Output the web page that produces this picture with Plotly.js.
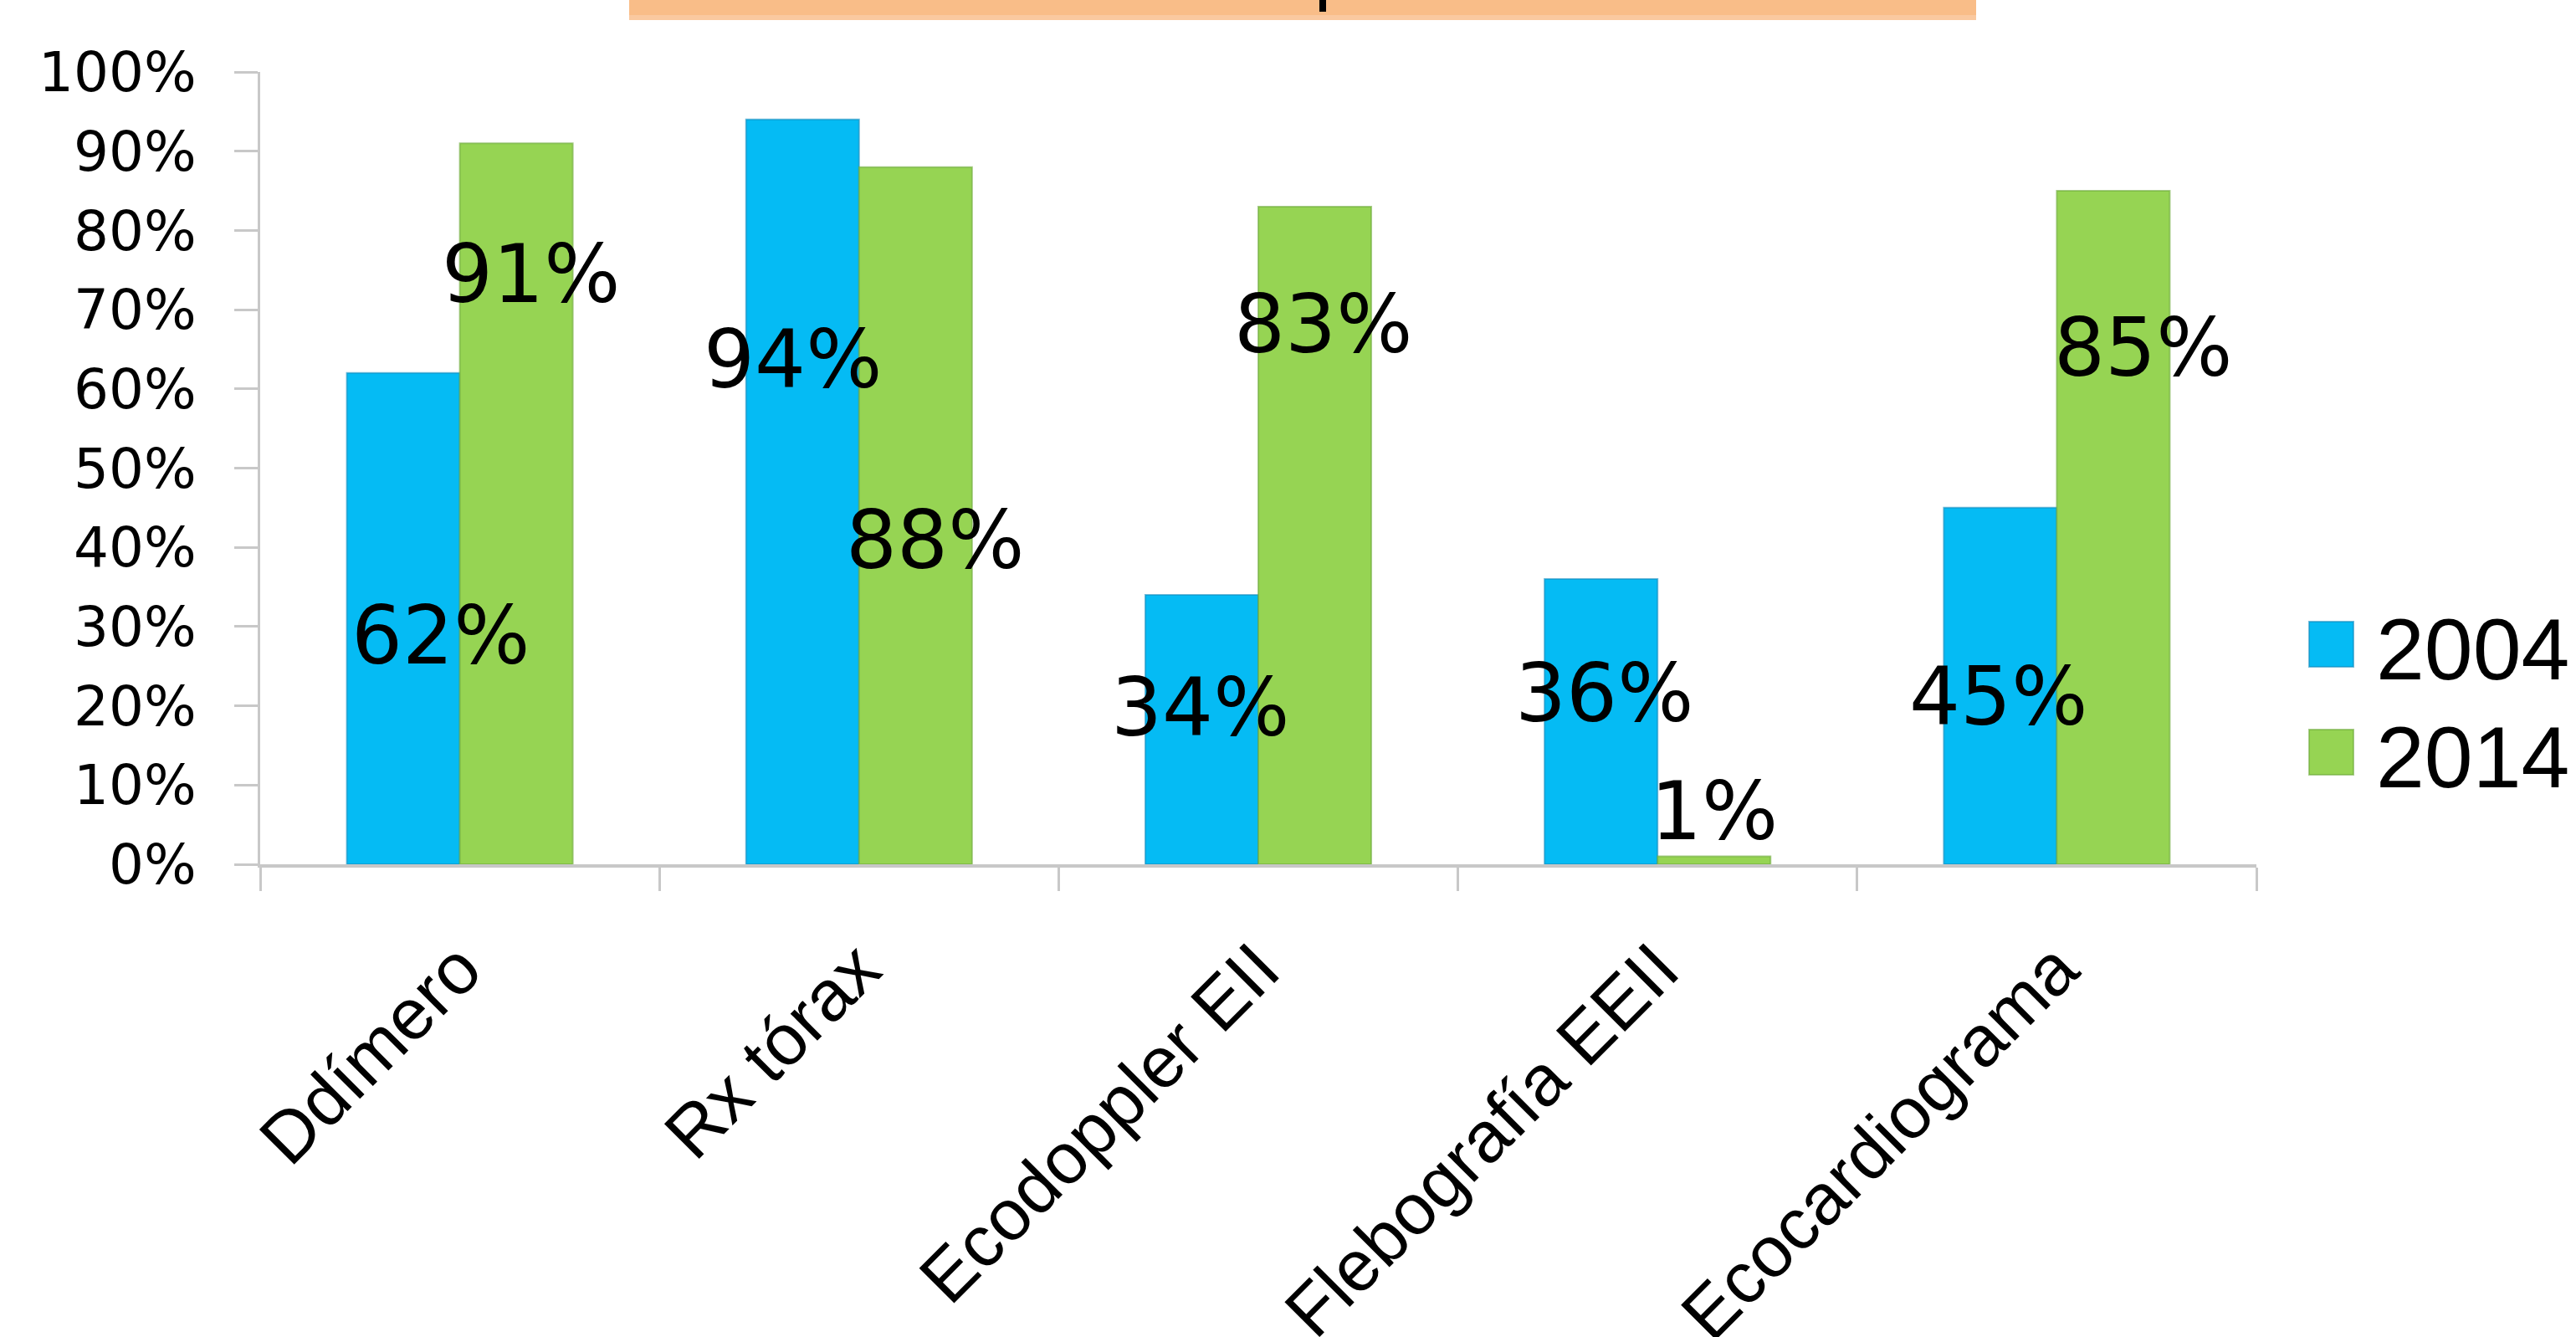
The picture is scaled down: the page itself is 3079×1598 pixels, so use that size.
<!DOCTYPE html>
<html>
<head>
<meta charset="utf-8">
<script src="https://cdn.plot.ly/plotly-3.0.1.min.js"></script>
<style>
  html, body { margin: 0; padding: 0; background: #ffffff; }
  #chart { width: 3079px; height: 1598px; }
</style>
</head>
<body>
<div id="chart"></div>
<script>
// ---- data ----
const categories = ["Ddímero", "Rx tórax", "Ecodoppler EII", "Flebografía EEII", "Ecocardiograma"];
const seriesNames = ["2004", "2014"];
const values2004 = [0.62, 0.94, 0.34, 0.36, 0.45];
const values2014 = [0.91, 0.88, 0.83, 0.01, 0.85];
const yTickVals = [0, 0.1, 0.2, 0.3, 0.4, 0.5, 0.6, 0.7, 0.8, 0.9, 1.0];

// ---- styles / label placement (not data) ----
const colors = ["#05BBF4", "#96D453"];
const lineColors = ["rgba(20,140,190,0.6)", "rgba(110,170,60,0.6)"];
const labelY = [[0.297, 0.645, 0.206, 0.224, 0.22], [0.753, 0.417, 0.69, 0.075, 0.66]];
const labelDx = [[44, -12, -2, 4, -2], [17, 23, 10, 0, 36]];

const W = 3079, H = 1598;
const M = {l: 311, r: 382, t: 86, b: 565};
const PW = W - M.l - M.r, PH = H - M.t - M.b;
const px = x => (x - M.l) / PW;
const py = y => (H - M.b - y) / PH;

const allValues = [values2004, values2014];
const traces = allValues.map((vals, i) => ({
  type: "bar",
  name: seriesNames[i],
  x: categories,
  y: vals,
  marker: {color: colors[i], line: {color: lineColors[i], width: 2}},
  showlegend: false,
  hoverinfo: "x+y"
}));

const pctFont = {family: "DejaVu Sans, Verdana, sans-serif", size: 96, color: "#000000"};
const annotations = [];
const barHalf = PW / categories.length * (1 - 0.434) / 4; // center offset of each bar in group
allValues.forEach((vals, s) => {
  vals.forEach((v, k) => {
    annotations.push({
      xref: "x", yref: "y",
      x: categories[k], y: labelY[s][k],
      xshift: (s === 0 ? -barHalf : barHalf) + labelDx[s][k],
      yshift: -8,
      text: Math.round(v * 100) + "%",
      showarrow: false,
      xanchor: "center", yanchor: "middle",
      font: pctFont
    });
  });
});

// legend (built from series names)
const shapes = [];
const legendRows = [770, 899];
seriesNames.forEach((n, i) => {
  const cy = legendRows[i];
  shapes.push({
    type: "rect", xref: "paper", yref: "paper",
    x0: px(2760), x1: px(2813), y0: py(cy - 27), y1: py(cy + 27),
    fillcolor: colors[i], line: {color: lineColors[i], width: 2}
  });
  annotations.push({
    xref: "paper", yref: "paper",
    x: px(2838), y: py(cy), xanchor: "left", yanchor: "middle",
    yshift: -6,
    text: n, showarrow: false,
    font: {family: "Liberation Sans, Arial, sans-serif", size: 104, color: "#000000"}
  });
});

// orange header band at top (partially visible title box)
shapes.push({
  type: "rect", xref: "paper", yref: "paper",
  x0: px(752), x1: px(2362), y0: py(24), y1: py(0),
  fillcolor: "#FAC9A0", line: {width: 0}, layer: "below"
});
shapes.push({
  type: "rect", xref: "paper", yref: "paper",
  x0: px(752), x1: px(2362), y0: py(18), y1: py(0),
  fillcolor: "#F9BD88", line: {width: 0}, layer: "below"
});
shapes.push({
  type: "rect", xref: "paper", yref: "paper",
  x0: px(1577), x1: px(1585), y0: py(14), y1: py(0),
  fillcolor: "#000000", line: {width: 0}
});

const layout = {
  width: W, height: H,
  margin: M,
  paper_bgcolor: "#ffffff",
  plot_bgcolor: "#ffffff",
  barmode: "group",
  bargap: 0.434,
  bargroupgap: 0,
  showlegend: false,
  xaxis: {
    type: "category",
    tickson: "boundaries",
    ticks: "outside", ticklen: 28, tickwidth: 3, tickcolor: "#c8c8c8",
    showline: true, linecolor: "#c8c8c8", linewidth: 4,
    showgrid: false, zeroline: false,
    tickangle: -45,
    ticklabelstandoff: 36,
    tickfont: {family: "Liberation Sans, Arial, sans-serif", size: 86, color: "#000000"}
  },
  yaxis: {
    range: [0, 1],
    tickvals: yTickVals,
    tickformat: ".0%",
    ticks: "outside", ticklen: 28, tickwidth: 3, tickcolor: "#c8c8c8",
    showline: true, linecolor: "#c8c8c8", linewidth: 3,
    showgrid: false, zeroline: false,
    ticklabelstandoff: 32,
    tickfont: {family: "DejaVu Sans, Verdana, sans-serif", size: 66, color: "#000000"}
  },
  annotations: annotations,
  shapes: shapes
};

Plotly.newPlot("chart", traces, layout, {staticPlot: true, displayModeBar: false});
</script>
</body>
</html>
